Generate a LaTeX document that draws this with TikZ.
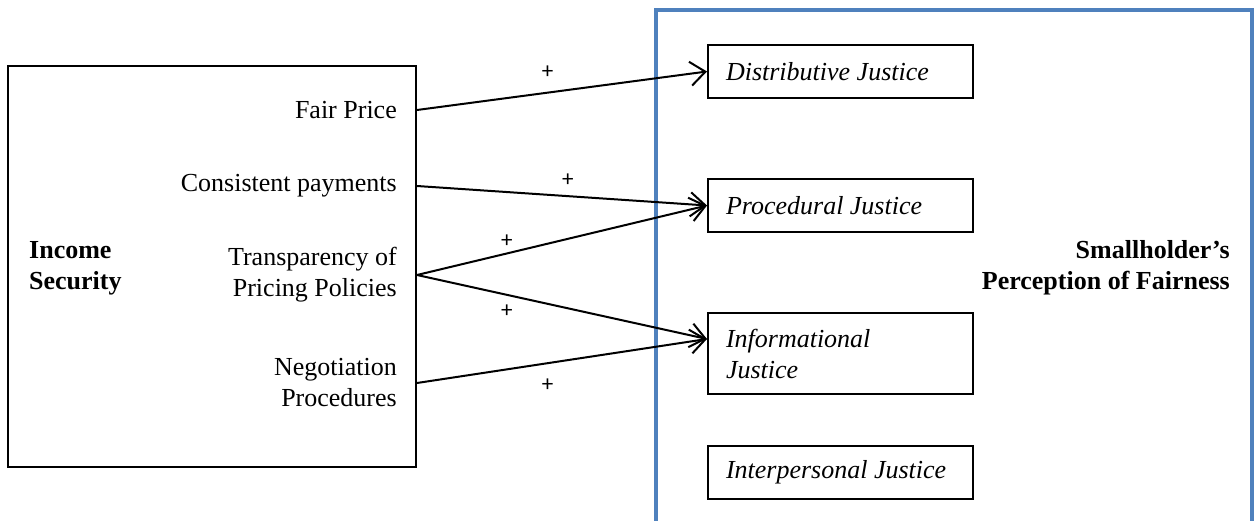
\documentclass[tikz,border=0pt]{standalone}
\usepackage{fontspec}
\setmainfont{Liberation Serif}
\newfontfamily\plusfont{Carlito}
\usetikzlibrary{arrows.meta}
\definecolor{frameblue}{RGB}{79,129,189}
\tikzset{
  txt/.style={font=\fontsize{26}{31}\selectfont, inner sep=0pt},
  outerbox/.style={draw=black, line width=2pt, inner sep=0pt},
  jbox/.style={draw=black, line width=2pt, font=\fontsize{26}{31}\selectfont\itshape,
    text width=229pt, align=flush left, inner xsep=18pt, inner ysep=0pt, minimum height=53pt},
  conn/.style={line width=2pt, -{Straight Barb[length=15pt,width=24pt,line width=2pt]}},
  plus/.style={font=\plusfont\fontsize{23}{26}\selectfont, inner sep=0pt},
  bluebox/.style={draw=frameblue, line width=4pt}
}
\begin{document}
\begin{tikzpicture}[x=1pt,y=-1pt]
\useasboundingbox (0,0) rectangle (1257,521);
% blue frame (open at bottom)
\coordinate (bl) at (656,523);
\coordinate (tl) at (656,10);
\coordinate (tr) at (1252,10);
\coordinate (br) at (1252,523);
\draw[bluebox] (bl) -- (tl) -- (tr) -- (br);
% left box
\node[outerbox, minimum width=408pt, minimum height=401pt] (inc) at (212,266.5) {};
\node[txt, font=\fontsize{26}{31}\selectfont\bfseries, align=left, anchor=west] (incl) at (29,268) {Income\\Security};
\node[txt, anchor=east] (fp) at (397,110) {Fair Price};
\node[txt, anchor=east] (cp) at (397,186) {Consistent payments};
\node[txt, anchor=east, align=right] (tp) at (397,275) {Transparency of\\Pricing Policies};
\node[txt, anchor=east, align=right] (np) at (397,383) {Negotiation\\Procedures};
% justice boxes
\node[jbox, anchor=north west] (dj) at (707,44) {Distributive Justice};
\node[jbox, anchor=north west] (pj) at (707,178) {Procedural Justice};
\node[jbox, anchor=north west, minimum height=81pt] (ij) at (707,312) {Informational\\Justice};
\node[jbox, anchor=north west] (ipj) at (707,445) {Interpersonal Justice};
% right label
\node[txt, font=\fontsize{26}{31}\selectfont\bfseries, align=right, anchor=east] (spf) at (1230,268) {Smallholder’s\\Perception of Fairness};
% connectors
\coordinate (ijin) at ([yshift=14.5pt]ij.west);
\draw[conn] (inc.east |- fp.east) -- node[plus, pos=0.45, yshift=20pt] (p1) {+} (dj.west);
\draw[conn] (inc.east |- cp.east) -- node[plus, pos=0.52, yshift=16pt] (p2) {+} (pj.west);
\draw[conn] (inc.east |- tp.east) -- node[plus, pos=0.31, yshift=12pt] (p3) {+} (pj.west);
\draw[conn] (inc.east |- tp.east) -- node[plus, pos=0.31, yshift=-16pt] (p4) {+} (ijin);
\draw[conn] (inc.east |- np.east) -- node[plus, pos=0.45, yshift=-22pt] (p5) {+} (ijin);
\end{tikzpicture}
\end{document}
